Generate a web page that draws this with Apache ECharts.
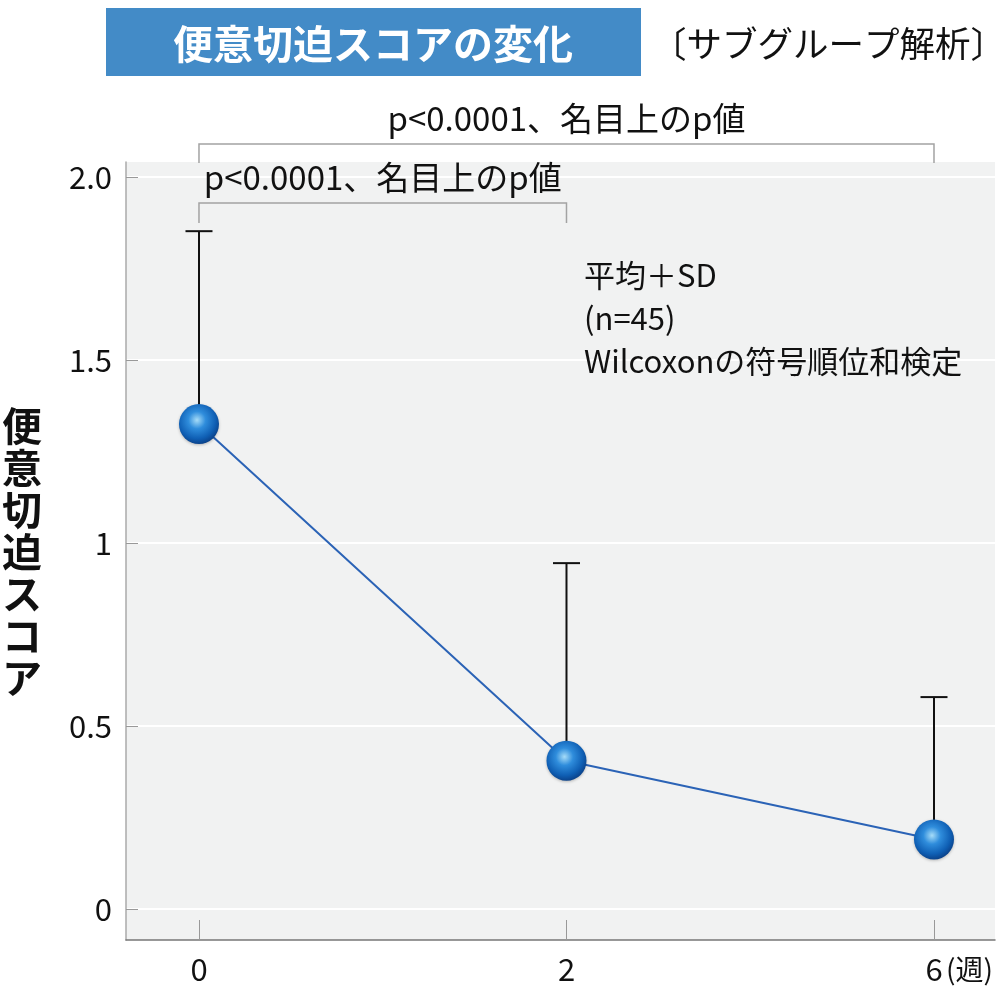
<!DOCTYPE html>
<html>
<head>
<meta charset="UTF-8">
<title>便意切迫スコアの変化</title>
<script src="https://cdn.jsdelivr.net/npm/echarts@6/dist/echarts.min.js"></script>
<style>
  html, body { margin: 0; padding: 0; background: #fff; }
</style>
</head>
<body>
<div id="main" style="width:1001px;height:1001px;"></div>
<script type="text/javascript">
    // データ
    var weeks = ['0', '2', '6'];
    var means = [1.325, 0.405, 0.19];
    var sdTops = [1.852, 0.945, 0.579];
    var yTicks = [0, 0.5, 1, 1.5, 2];
    var yTickLabels = ['0', '0.5', '1', '1.5', '2.0'];
    // ブラケット: x開始, x終了, 横線のy, 縦線の下端y
    var bracketFrom = [0, 0];
    var bracketTo = [2, 1];
    var bracketY = [2.090, 1.929];
    var bracketEnd = [2.038, 1.874];
    var pLabel = 'p<0.0001、名目上のp値';

    var FONT = '"Noto Sans CJK JP", "Noto Sans", sans-serif';

    var myChart = echarts.init(document.getElementById('main'));

    var points = means.map(function (v, i) { return [i, v]; });
    var bars = means.map(function (v, i) { return [i, v, sdTops[i]]; });
    var bracketData = bracketFrom.map(function (v, i) {
        return [v, bracketTo[i], bracketY[i], bracketEnd[i]];
    });

    var option = {
        backgroundColor: '#ffffff',
        animation: false,
        textStyle: { fontFamily: FONT },
        grid: {
            left: 126, right: 6, top: 162, bottom: 61,
            show: true, backgroundColor: '#f1f2f2', borderWidth: 0
        },
        xAxis: {
            type: 'value',
            min: -0.1986,
            max: 2.166,
            z: 3,
            axisLine: { show: true, onZero: false, lineStyle: { color: '#777', width: 1.5 } },
            axisTick: {
                show: true, inside: true, length: 20,
                customValues: [0, 1, 2],
                lineStyle: { color: '#999', width: 1 }
            },
            axisLabel: {
                customValues: [0, 1, 2],
                formatter: function (v) { return weeks[Math.round(v)]; },
                color: '#111', fontSize: 31, fontFamily: FONT, margin: 14
            },
            splitLine: { show: false }
        },
        yAxis: {
            type: 'value',
            min: -0.0847,
            max: 2.041,
            z: 3,
            axisLine: { show: true, onZero: false, lineStyle: { color: '#aaa', width: 1.5 } },
            axisTick: {
                show: true, inside: true, length: 12,
                customValues: yTicks,
                lineStyle: { color: '#999', width: 1 }
            },
            axisLabel: {
                customValues: yTicks,
                formatter: function (v) { return yTickLabels[yTicks.indexOf(v)]; },
                color: '#111', fontSize: 31, fontFamily: FONT, margin: 14
            },
            splitLine: { show: false }
        },
        graphic: [
            {
                type: 'rect', left: 106, top: 8, z: 10,
                shape: { width: 535, height: 68 },
                style: { fill: '#438bc7' }
            },
            {
                type: 'text', x: 373, y: 44, z: 11,
                style: {
                    text: '便意切迫スコアの変化', fill: '#fff',
                    font: 'bold 40px ' + FONT,
                    textAlign: 'center', textVerticalAlign: 'middle'
                }
            },
            {
                type: 'text', x: 651, y: 44, z: 10,
                style: {
                    text: '〔サブグループ解析〕', fill: '#111',
                    font: '35.5px ' + FONT,
                    textAlign: 'left', textVerticalAlign: 'middle'
                }
            },
            {
                type: 'text', x: 22, y: 552, z: 10,
                style: {
                    text: '便\n意\n切\n迫\nス\nコ\nア', fill: '#111',
                    font: 'bold 40px ' + FONT, lineHeight: 42,
                    textAlign: 'center', textVerticalAlign: 'middle'
                }
            },
            {
                type: 'text', x: 946, y: 969, z: 10,
                style: {
                    text: '(週)', fill: '#111',
                    font: '28px ' + FONT,
                    textAlign: 'left', textVerticalAlign: 'middle'
                }
            },
            {
                type: 'text', left: 584, top: 254, z: 10,
                style: {
                    text: '平均＋SD\n(n=45)\nWilcoxonの符号順位和検定', fill: '#111',
                    font: '31px ' + FONT, lineHeight: 43
                }
            }
        ],
        series: [
            {
                // 白い目盛線
                type: 'custom',
                clip: false,
                z: 1,
                silent: true,
                data: yTicks,
                renderItem: function (params, api) {
                    var cs = params.coordSys;
                    var y = api.coord([0, api.value(0)])[1];
                    return {
                        type: 'line',
                        shape: { x1: cs.x, y1: y, x2: cs.x + cs.width, y2: y },
                        style: { stroke: '#ffffff', lineWidth: 2 }
                    };
                }
            },
            {
                // ブラケットとp値
                type: 'custom',
                clip: false,
                z: 2,
                silent: true,
                data: bracketData,
                renderItem: function (params, api) {
                    var a = api.coord([api.value(0), api.value(2)]);
                    var b = api.coord([api.value(1), api.value(2)]);
                    var e = api.coord([api.value(0), api.value(3)]);
                    var st = { stroke: '#a3a3a3', lineWidth: 1.5, fill: null };
                    return {
                        type: 'group',
                        children: [
                            { type: 'polyline', shape: { points: [[a[0], e[1]], a, b, [b[0], e[1]]] }, style: st },
                            {
                                type: 'text',
                                style: {
                                    x: (a[0] + b[0]) / 2, y: a[1] - 26,
                                    text: pLabel, fill: '#111',
                                    font: '33px ' + FONT,
                                    textAlign: 'center', textVerticalAlign: 'middle'
                                }
                            }
                        ]
                    };
                }
            },
            {
                // 標準偏差のエラーバー
                type: 'custom',
                clip: false,
                z: 3,
                silent: true,
                data: bars,
                renderItem: function (params, api) {
                    var p = api.coord([api.value(0), api.value(1)]);
                    var t = api.coord([api.value(0), api.value(2)]);
                    var st = { stroke: '#111', lineWidth: 2 };
                    return {
                        type: 'group',
                        children: [
                            { type: 'line', shape: { x1: p[0], y1: p[1], x2: t[0], y2: t[1] }, style: st },
                            { type: 'line', shape: { x1: t[0] - 13.5, y1: t[1], x2: t[0] + 13.5, y2: t[1] }, style: st }
                        ]
                    };
                }
            },
            {
                type: 'line',
                data: points,
                z: 4,
                symbol: 'circle',
                symbolSize: 40,
                lineStyle: { color: '#2b63b6', width: 2 },
                itemStyle: {
                    color: new echarts.graphic.RadialGradient(0.45, 0.4, 0.62, [
                        { offset: 0, color: '#a6dcf8' },
                        { offset: 0.35, color: '#2f8ddc' },
                        { offset: 0.75, color: '#0f5fb4' },
                        { offset: 1, color: '#0a3f86' }
                    ]),
                    borderWidth: 0,
                    shadowColor: 'rgba(0,0,0,0.25)',
                    shadowBlur: 3,
                    shadowOffsetY: 1
                }
            }
        ]
    };

    myChart.setOption(option);
</script>
</body>
</html>
